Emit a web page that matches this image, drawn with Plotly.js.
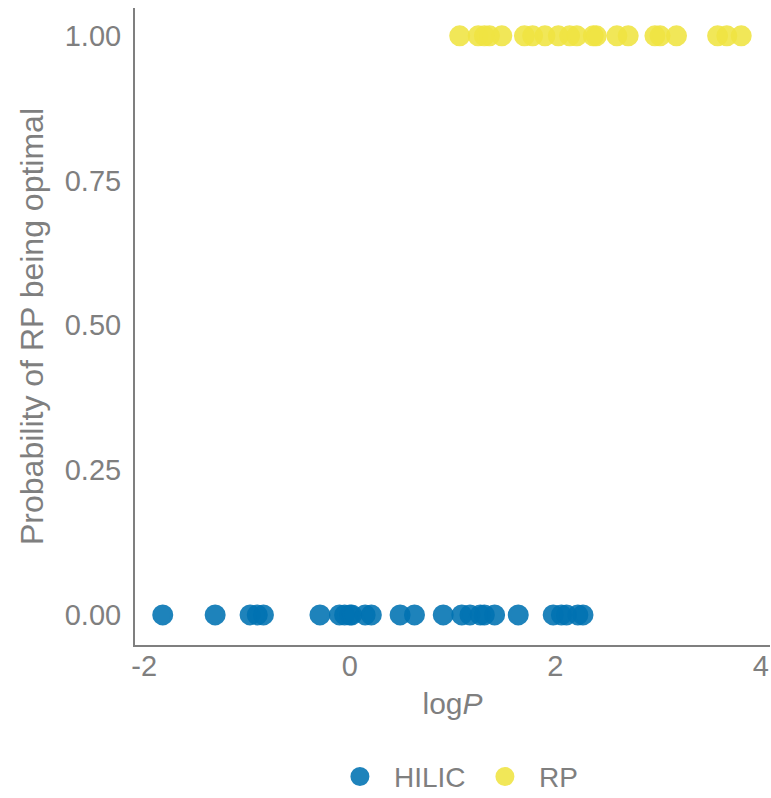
<!DOCTYPE html>
<html>
<head>
<meta charset="utf-8">
<script src="https://cdn.plot.ly/plotly-3.0.1.min.js"></script>
<style>html,body{margin:0;padding:0;background:#fff;}#chart{width:771px;height:798px;}</style>
</head>
<body>
<div id="chart"></div>
<script>
// logP values for compounds where HILIC was optimal (probability 0)
var hilicLogP = [-1.82, -1.31, -0.97, -0.90, -0.84, -0.29, -0.10, -0.05, 0.00, 0.02, 0.15, 0.21,
                 0.49, 0.63, 0.91, 1.09, 1.17, 1.27, 1.31, 1.41, 1.64, 1.98, 2.06, 2.11, 2.22, 2.27];
var hilicProb = [0, 0, 0, 0, 0, 0, 0, 0, 0, 0, 0, 0, 0, 0, 0, 0, 0, 0, 0, 0, 0, 0, 0, 0, 0, 0];
// logP values for compounds where RP was optimal (probability 1)
var rpLogP = [1.07, 1.25, 1.31, 1.36, 1.48, 1.70, 1.78, 1.90, 2.03, 2.14, 2.21, 2.37, 2.40,
              2.60, 2.71, 2.97, 3.02, 3.18, 3.58, 3.67, 3.81];
var rpProb = [1, 1, 1, 1, 1, 1, 1, 1, 1, 1, 1, 1, 1, 1, 1, 1, 1, 1, 1, 1, 1];
var yTickVals = [0, 0.25, 0.5, 0.75, 1];
var yTickText = ['0.00', '0.25', '0.50', '0.75', '1.00'];
var xTickVals = [-2, 0, 2, 4];
var xTickText = ['-2', '0', '2', '4'];

var gray = '#7f7f7f';
var fontFam = 'Liberation Sans, Arial, sans-serif';

var traces = [
  {x: hilicLogP, y: hilicProb, name: 'HILIC', type: 'scatter', mode: 'markers',
   marker: {color: '#0072B2', size: 18, opacity: 0.88, line: {width: 3, color: '#0072B2'}}},
  {x: rpLogP, y: rpProb, name: 'RP', type: 'scatter', mode: 'markers',
   marker: {color: '#F0E442', size: 18, opacity: 0.88, line: {width: 3, color: '#F0E442'}}}
];

var layout = {
  width: 771, height: 798,
  margin: {l: 135, r: 1, t: 8, b: 153, autoexpand: false},
  paper_bgcolor: '#fff', plot_bgcolor: '#fff',
  font: {family: fontFam, color: gray, size: 28},
  showlegend: true,
  legend: {orientation: 'h', x: 0.529, xanchor: 'center', y: -0.207, yanchor: 'middle',
           font: {size: 28, color: gray}, itemsizing: 'trace', itemwidth: 58,
           entrywidth: 72, entrywidthmode: 'pixels'},
  xaxis: {range: [-2.09, 4.09], showgrid: false, zeroline: false, showline: true,
          linecolor: gray, linewidth: 2, ticks: '', tickvals: xTickVals, ticktext: xTickText,
          tickfont: {size: 29, color: gray}, ticklabelstandoff: -6,
          title: {text: 'log<i>P</i>', font: {size: 30, color: gray}, standoff: 12}},
  yaxis: {range: [-0.052, 1.048], showgrid: false, zeroline: false, showline: true,
          linecolor: gray, linewidth: 2, ticks: '', tickvals: yTickVals, ticktext: yTickText,
          tickfont: {size: 29, color: gray}, ticklabelstandoff: 6,
          title: {text: 'Probability of RP being optimal', font: {size: 32, color: gray}, standoff: 12}}
};

Plotly.newPlot('chart', traces, layout, {displayModeBar: false});
</script>
</body>
</html>
